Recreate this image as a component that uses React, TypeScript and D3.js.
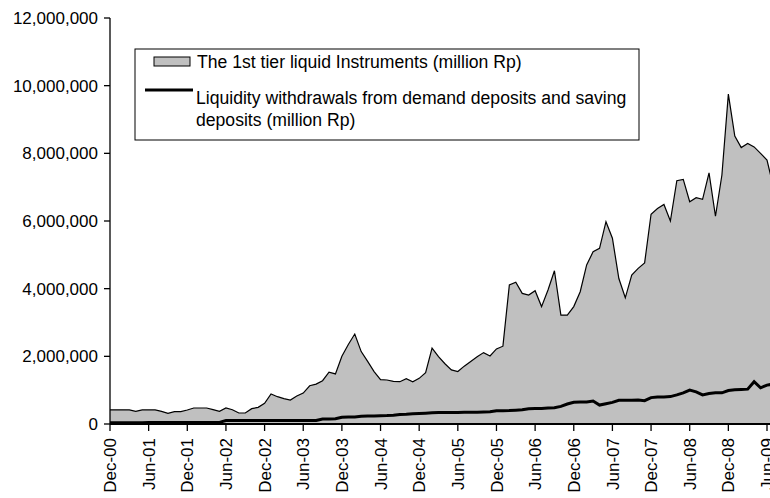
import React from "react";
import * as d3 from "d3";

// monthly values, Dec-00 .. Jul-09 (thousand million Rp -> multiplied below)
const liquidInstruments = [
  420, 420, 420, 415, 375, 415, 415, 415, 375, 315, 365, 365,
  413, 473, 473, 473, 423, 374, 473, 423, 325, 325, 453, 492,
  610, 886, 807, 748, 709, 827, 915, 1130, 1180, 1280, 1530, 1480,
  2000, 2350, 2660, 2140, 1850, 1550, 1310, 1300, 1260, 1250, 1340, 1250,
  1350, 1520, 2240, 1990, 1780, 1600, 1550, 1710, 1850, 1990, 2110, 2010,
  2220, 2300, 4110, 4190, 3860, 3810, 3940, 3470, 3960, 4530, 3220, 3220,
  3470, 3910, 4700, 5090, 5190, 5980, 5490, 4300, 3730, 4400, 4600, 4760,
  6200, 6370, 6490, 6000, 7190, 7230, 6570, 6690, 6640, 7420, 6140, 7360,
  9750, 8510, 8170, 8290, 8190, 8000, 7800, 7000,
];

const withdrawals = [
  40, 40, 40, 40, 40, 40, 42, 42, 42, 42, 42, 42,
  45, 45, 45, 45, 45, 48, 100, 100, 100, 100, 100, 100,
  100, 100, 100, 100, 100, 100, 100, 100, 105, 150, 150, 155,
  200, 205, 210, 230, 240, 240, 245, 250, 260, 280, 285, 300,
  310, 320, 330, 340, 340, 340, 340, 345, 345, 350, 355, 360,
  390, 395, 400, 410, 420, 450, 460, 460, 470, 480, 520, 590,
  640, 650, 650, 680, 560, 600, 640, 700, 700, 700, 710, 690,
  780, 800, 800, 810, 860, 920, 1000, 950, 860, 900, 920, 920,
  990, 1010, 1020, 1030, 1250, 1070, 1150, 1180,
];

const tickLabels = [
  "Dec-00", "Jun-01", "Dec-01", "Jun-02", "Dec-02", "Jun-03", "Dec-03", "Jun-04", "Dec-04",
  "Jun-05", "Dec-05", "Jun-06", "Dec-06", "Jun-07", "Dec-07", "Jun-08", "Dec-08", "Jun-09",
];
const yTicks = [0, 2000000, 4000000, 6000000, 8000000, 10000000, 12000000];

const legendArea = "The 1st tier liquid Instruments (million Rp)";
const legendLine = ["Liquidity withdrawals from demand deposits and saving", "deposits (million Rp)"];

const FONT = "'Liberation Sans', Arial, sans-serif";

export default function App() {
  const width = 770;
  const height = 498;
  const left = 110;
  const bottom = 424;

  const x = d3.scaleLinear().domain([0, 102]).range([left, 767]);
  const y = d3.scaleLinear().domain([0, 12000000]).range([bottom, 18]);

  const area = d3
    .area<number>()
    .x((d, i) => x(i))
    .y0(y(0))
    .y1((d) => y(d * 1000));
  const top = d3
    .line<number>()
    .x((d, i) => x(i))
    .y((d) => y(d * 1000));

  return (
    <svg width={width} height={height} style={{ position: "absolute", left: 0, top: 0, background: "#fff" }} fontFamily={FONT}>
      <path d={area(liquidInstruments) || ""} fill="#c0c0c0" stroke="none" />
      <path d={top(liquidInstruments) || ""} fill="none" stroke="#000" strokeWidth={1.2} strokeLinejoin="miter" />
      <path d={top(withdrawals) || ""} fill="none" stroke="#000" strokeWidth={3} />

      {/* y axis */}
      <line x1={left} x2={left} y1={y(12000000)} y2={bottom} stroke="#000" strokeWidth={1.3} />
      {yTicks.map((t) => (
        <g key={t}>
          <line x1={left - 6} x2={left} y1={y(t)} y2={y(t)} stroke="#000" strokeWidth={1.3} />
          <text x={98} y={y(t)} dy="0.36em" textAnchor="end" fontSize={17}>
            {d3.format(",")(t)}
          </text>
        </g>
      ))}

      {/* x axis */}
      <line x1={left} x2={width} y1={bottom} y2={bottom} stroke="#000" strokeWidth={2} />
      {tickLabels.map((lab, k) => (
        <g key={lab}>
          <line x1={x(k * 6)} x2={x(k * 6)} y1={bottom} y2={bottom + 7} stroke="#000" strokeWidth={1.3} />
          <text
            transform={`translate(${x(k * 6)},${bottom + 14}) rotate(-90)`}
            dy="0.36em"
            textAnchor="end"
            fontSize={17}
          >
            {lab}
          </text>
        </g>
      ))}

      {/* legend */}
      <rect x={135} y={49} width={504} height={91} fill="#fff" stroke="#000" strokeWidth={1} />
      <rect x={154} y={57} width={36} height={9} fill="#c0c0c0" stroke="#000" strokeWidth={1} />
      <text x={197} y={68} fontSize={17.6}>{legendArea}</text>
      <line x1={145} x2={193} y1={90} y2={90} stroke="#000" strokeWidth={3} />
      {legendLine.map((s, k) => (
        <text key={s} x={196} y={104 + k * 22} fontSize={17.6}>
          {s}
        </text>
      ))}
    </svg>
  );
}
